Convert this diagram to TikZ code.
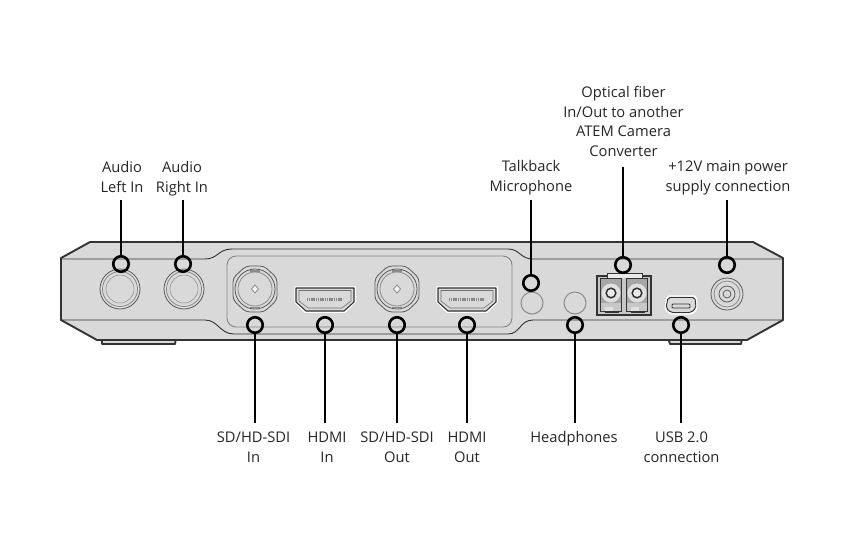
\documentclass[tikz,border=0pt]{standalone}
\usepackage{fontspec}
\setmainfont{Open Sans}
\definecolor{bodyfill}{HTML}{D9D9D9}
\definecolor{edge}{HTML}{333333}
\definecolor{soft}{HTML}{8A8A8A}
\tikzset{
 x=1pt,y=-1pt,
 lab/.style={align=center,inner sep=0pt,outer sep=0pt,text=black!85,font=\fontsize{14.7}{19.5}\selectfont},
 tag/.style={circle,draw=black,line width=2.6pt,minimum size=15.5pt,inner sep=0pt,outer sep=0pt},
 conn/.style={draw=black,line width=2.6pt},
 hull/.style={draw=edge,line width=1.9pt,line join=round},
 thin1/.style={draw=soft,line width=.8pt},
 thin2/.style={draw=edge!80,line width=.8pt},
}
\newcommand{\hdmi}[1]{\begin{scope}[shift={(#1,0)}]
 \draw[draw=white,line width=1.5pt] (-30,287)--(30,287)--(30,302)--(20,312)--(-20,312)--(-30,302)--cycle;
 \draw[draw=edge,line width=1.1pt,fill=bodyfill,line join=round] (-29,288)--(29,288)--(29,302)--(19,311)--(-19,311)--(-29,302)--cycle;
 \draw[draw=edge!70,fill=bodyfill,line width=.6pt] (-26,290.5)--(26,290.5)--(26,301)--(17,308)--(-17,308)--(-26,301)--cycle;
 \draw[draw=soft,line width=3pt,dash pattern=on 1.2pt off .6pt] (-18,299)--(18,299);
\end{scope}}
\newcommand{\bnc}[1]{\begin{scope}[shift={(#1,289)}]
 \draw[thin2,fill=bodyfill,rounded corners=4pt] (-9,-23)--(9,-23)--(22,-11)--(22,11)--(9,23)--(-9,23)--(-22,11)--(-22,-11)--cycle;
 \draw[thin2] circle (20);
 \draw[thin1] circle (17);
 \draw[thin1,fill=white!70!bodyfill] (-3.5,0)--(0,-4)--(3.5,0)--(0,4)--cycle;
 \fill[soft] (-5,-19) rectangle (5,-17.5); \fill[soft] (-5,17.5) rectangle (5,19);
\end{scope}}
\newcommand{\xlr}[1]{\begin{scope}[shift={(#1,289)}]
 \draw[thin2,fill=bodyfill] circle (20);
 \draw[thin1] circle (17.5);
 \draw[soft,line width=.5pt] circle (14);
\end{scope}}
\newcommand{\fibermod}[1]{\begin{scope}[shift={(#1,0)}]
 \fill[black!35] (-10,279) rectangle (10,303);
 \draw[edge,line width=.9pt] (-10.5,278) rectangle (10.5,311);
 \fill[black!12] (0,293) circle (9.5);
 \draw[edge,line width=1.5pt,fill=black!8] (0,293) circle (4.8);
 \fill[black!12] (-6,307) rectangle (2,311);
 \fill[edge] (-6,311) rectangle (8,312.5);
\end{scope}}
\begin{document}
\begin{tikzpicture}
\useasboundingbox (0,0) rectangle (850,550);
\fill[white] (0,0) rectangle (850,550);
% feet
\draw[hull,fill=bodyfill] (102,338)--(102,344)--(175,344)--(176,338);
\draw[hull,fill=bodyfill] (668,338)--(670,344)--(741,344)--(742,338);
% body
\draw[hull,fill=bodyfill] (61,258)--(90,242)--(753,242)--(783,258)--(783,320)--(747,340)--(97,340)--(61,320)--cycle;
% inner lines
\draw[draw=edge,line width=.9pt] (61,259)--(205,259) .. controls (218,259) and (218,249) .. (232,249)--(508,249) .. controls (520,249) and (520,259) .. (533,259)--(783,259);
\draw[draw=edge,line width=.9pt] (61,320)--(205,320) .. controls (218,320) and (220,334) .. (234,334)--(508,334) .. controls (520,334) and (520,320) .. (533,320)--(783,320);
\draw[draw=edge!60,line width=.9pt,rounded corners=9pt] (227,256) rectangle (512,327);
% connectors on device
\xlr{120}\xlr{184}
\bnc{255}\bnc{397}
\hdmi{325}\hdmi{467}
% jacks
\draw[draw=soft,line width=1pt] (532,303) circle (11);
\draw[draw=soft,line width=1pt] (575,303) circle (11);
\draw[draw=white!70!soft,line width=.7pt] (575,303) circle (8.5);
% fiber
\draw[draw=edge,line width=1.2pt,fill=black!22] (597,276)--(651,276)--(651,315)--(597,315)--cycle;
\fill[black!8] (607,274) rectangle (642,278);
\draw[edge,line width=.7pt] (607,278)--(607,273.5)--(642,273.5)--(642,278);
\fibermod{611}\fibermod{637}
% usb
\draw[draw=white,line width=1.4pt,rounded corners=2pt] (667,296)--(696,296)--(697,309)--(692,314)--(670,314)--(665,309)--cycle;
\draw[draw=edge,line width=.9pt,rounded corners=2pt] (668,297.5)--(695,297.5)--(696,308)--(691,312.5)--(671,312.5)--(666,308)--cycle;
\draw[draw=edge,line width=.8pt,rounded corners=1pt] (672,304)--(690,304)--(690,308)--(672,308)--cycle;
% power
\draw[thin2,fill=bodyfill] (727,294) circle (16);
\draw[thin1] (727,294) circle (13);
\draw[thin2] (727,294) circle (8);
\draw[thin2] (727,294) circle (4);
% tags
\node[tag] (tagA) at (121,264) {};
\node[tag] (tagB) at (183,264) {};
\node[tag] (tagC) at (255,325) {};
\node[tag] (tagD) at (325,325) {};
\node[tag] (tagE) at (397,325) {};
\node[tag] (tagF) at (467,325) {};
\node[tag] (tagG) at (531,283) {};
\node[tag] (tagH) at (575,325) {};
\node[tag] (tagI) at (623,265) {};
\node[tag] (tagJ) at (681,325) {};
\node[tag] (tagK) at (727,265) {};
% labels
\node[lab,anchor=base] (txtA) at (122,192) {Audio\\Left In};
\node[lab,anchor=base] (txtB) at (182,192) {Audio\\Right In};
\node[lab,anchor=base] (txtC) at (253.5,462) {SD/HD-SDI\\In};
\node[lab,anchor=base] (txtD) at (327,462) {HDMI\\In};
\node[lab,anchor=base] (txtE) at (397,462) {SD/HD-SDI\\Out};
\node[lab,anchor=base] (txtF) at (467,462) {HDMI\\Out};
\node[lab,anchor=base] (txtG) at (531,191) {Talkback\\Microphone};
\node[lab,anchor=base] (txtH) at (574,442) {Headphones};
\node[lab,anchor=base] (txtI) at (623.5,156) {Optical fiber\\In/Out to another\\ATEM Camera\\Converter};
\node[lab,anchor=base] (txtJ) at (681.5,462) {USB 2.0\\connection};
\node[lab,anchor=base] (txtK) at (728,191) {+12V main power\\supply connection};
% leaders
\coordinate (endA) at (121,200);
\coordinate (endB) at (183,200);
\coordinate (endC) at (255,423);
\coordinate (endD) at (325,423);
\coordinate (endE) at (397,423);
\coordinate (endF) at (467,423);
\coordinate (endG) at (531,200);
\coordinate (endH) at (575,423);
\coordinate (endI) at (623,167);
\coordinate (endJ) at (681,423);
\coordinate (endK) at (727,200);
\foreach \t/\e in {tagA/endA,tagB/endB,tagC/endC,tagD/endD,tagE/endE,tagF/endF,tagG/endG,tagH/endH,tagI/endI,tagJ/endJ,tagK/endK}
  \draw[conn] (\t) -- (\e);
\end{tikzpicture}
\end{document}
